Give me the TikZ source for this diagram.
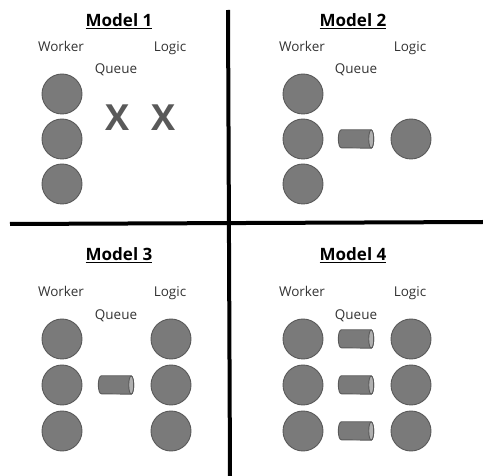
\documentclass[tikz,border=0pt]{standalone}
\usepackage{fontspec}
\setmainfont{Open Sans}
\definecolor{ballfill}{HTML}{7A7A7A}
\definecolor{balledge}{HTML}{595959}
\definecolor{capfill}{HTML}{B0B0B0}
\definecolor{xcol}{HTML}{595959}
\definecolor{txt}{HTML}{333333}
\newcommand\drawqueue[1]{%
  \filldraw[fill=ballfill,draw=balledge,line width=0.9pt]
    ([xshift=-2.5pt]#1.north east) -- ([xshift=3pt]#1.north west)
    arc[start angle=90,end angle=270,x radius=3pt,y radius=9pt]
    -- ([xshift=-2.5pt]#1.south east)
    arc[start angle=-90,end angle=90,x radius=2.5pt,y radius=9pt] -- cycle;
  \filldraw[fill=capfill,draw=balledge,line width=0.9pt]
    ([xshift=-2.5pt]#1.east) ellipse[x radius=2.5pt,y radius=9pt];}
\begin{document}
\begin{tikzpicture}[x=1pt,y=-1pt,
  ball/.style={circle, draw=balledge, fill=ballfill, line width=0.9pt, minimum size=40pt, inner sep=0pt},
  queuebox/.style={rectangle, minimum width=35pt, minimum height=18pt, inner sep=0pt},
  lbl/.style={font=\fontsize{13.5}{15}\selectfont, text=txt, inner sep=0pt, anchor=base},
  ttl/.style={font=\fontsize{17}{19}\selectfont\bfseries, text=black, inner sep=0pt, anchor=base},
  xmark/.style={font=\fontsize{36}{38}\selectfont\bfseries, text=xcol, inner sep=0pt},
  divider/.style={line width=4pt, black}]
\useasboundingbox (0,0) rectangle (483,476);
% dividers
\coordinate (vtop) at (228,10);
\coordinate (vbot) at (230,476);
\coordinate (hl) at (10,224);
\coordinate (hr) at (483,222);
\draw[divider] (vtop) -- (vbot);
\draw[divider] (hl) -- (hr);
% Model 1
\node[ttl] (t1) at (119,27) {\underline{Model 1}};
\node[lbl] (w1) at (61,52) {Worker};
\node[lbl] (l1) at (170,52) {Logic};
\node[lbl] (q1) at (116,74) {Queue};
\node[ball] (a1) at (62,94) {};
\node[ball] (b1) at (62,139) {};
\node[ball] (c1) at (62,184) {};
\node[xmark] (x1) at (118,118) {X};
\node[xmark] (x2) at (164,118) {X};
% Model 2
\node[ttl] (t2) at (353,27) {\underline{Model 2}};
\node[lbl] (w2) at (302,52) {Worker};
\node[lbl] (l2) at (410,52) {Logic};
\node[lbl] (q2) at (356,74) {Queue};
\node[ball] (a2) at (303,94) {};
\node[ball] (b2) at (303,139) {};
\node[ball] (c2) at (303,184) {};
\node[queuebox] (qq2) at (356,139) {};
\drawqueue{qq2}
\node[ball] (r2) at (411,139) {};
% Model 3
\node[ttl] (t3) at (119,261) {\underline{Model 3}};
\node[lbl] (w3) at (61,297) {Worker};
\node[lbl] (l3) at (170,297) {Logic};
\node[lbl] (q3) at (116,320) {Queue};
\node[ball] (a3) at (62,339) {};
\node[ball] (b3) at (62,385) {};
\node[ball] (c3) at (62,431) {};
\node[queuebox] (qq3) at (116,385) {};
\drawqueue{qq3}
\node[ball] (ra3) at (171,339) {};
\node[ball] (rb3) at (171,385) {};
\node[ball] (rc3) at (171,431) {};
% Model 4
\node[ttl] (t4) at (353,261) {\underline{Model 4}};
\node[lbl] (w4) at (302,297) {Worker};
\node[lbl] (l4) at (410,297) {Logic};
\node[lbl] (q4) at (356,320) {Queue};
\node[ball] (a4) at (303,339) {};
\node[ball] (b4) at (303,385) {};
\node[ball] (c4) at (303,431) {};
\node[queuebox] (qa4) at (356,339) {};
\node[queuebox] (qb4) at (356,385) {};
\node[queuebox] (qc4) at (356,431) {};
\drawqueue{qa4}
\drawqueue{qb4}
\drawqueue{qc4}
\node[ball] (ra4) at (411,339) {};
\node[ball] (rb4) at (411,385) {};
\node[ball] (rc4) at (411,431) {};
\end{tikzpicture}
\end{document}
